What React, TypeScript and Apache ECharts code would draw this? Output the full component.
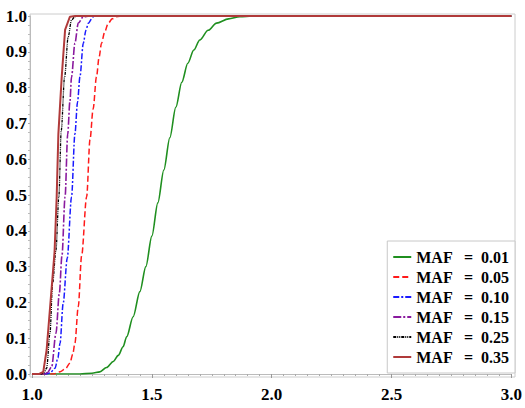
import React, { useEffect, useRef } from "react";
import * as echarts from "echarts";

// Cumulative curves, one per minor allele frequency: [x, probability]
const maf001: [number, number][] = [
  [1.0, 0], [1.2, 0], [1.25, 0.002], [1.283, 0.006], [1.311, 0.018], [1.339, 0.035],
  [1.36, 0.052], [1.38, 0.076], [1.395, 0.104], [1.422, 0.16], [1.45, 0.23],
  [1.475, 0.3], [1.5, 0.385], [1.525, 0.478], [1.55, 0.57], [1.575, 0.66],
  [1.6, 0.745], [1.625, 0.815], [1.65, 0.868], [1.675, 0.905], [1.7, 0.933],
  [1.735, 0.96], [1.77, 0.98], [1.82, 0.992], [1.867, 0.998], [1.92, 1], [3.0, 1],
];
const maf005: [number, number][] = [
  [1.0, 0], [1.09, 0], [1.117, 0.006], [1.14, 0.015], [1.158, 0.03], [1.17, 0.055],
  [1.179, 0.086], [1.193, 0.188], [1.207, 0.33], [1.228, 0.495], [1.242, 0.655],
  [1.255, 0.74], [1.269, 0.83], [1.28, 0.885], [1.29, 0.924], [1.303, 0.955],
  [1.318, 0.98], [1.335, 0.992], [1.353, 0.998], [1.38, 1], [3.0, 1],
];
const maf010: [number, number][] = [
  [1.0, 0], [1.06, 0], [1.075, 0.003], [1.096, 0.016], [1.108, 0.045], [1.117, 0.086],
  [1.13, 0.197], [1.147, 0.323], [1.165, 0.495], [1.179, 0.67], [1.19, 0.76],
  [1.2, 0.83], [1.214, 0.924], [1.225, 0.96], [1.235, 0.98], [1.255, 0.998],
  [1.28, 1], [3.0, 1],
];
const maf015: [number, number][] = [
  [1.0, 0], [1.05, 0], [1.065, 0.004], [1.082, 0.02], [1.1, 0.114], [1.114, 0.225],
  [1.125, 0.33], [1.138, 0.495], [1.149, 0.67], [1.158, 0.76], [1.165, 0.83],
  [1.179, 0.924], [1.193, 0.98], [1.214, 0.998], [1.24, 1], [3.0, 1],
];
const maf025: [number, number][] = [
  [1.0, 0], [1.04, 0], [1.05, 0.004], [1.061, 0.016], [1.075, 0.114], [1.086, 0.253],
  [1.1, 0.346], [1.112, 0.495], [1.122, 0.68], [1.136, 0.83], [1.151, 0.942],
  [1.165, 0.989], [1.179, 0.998], [1.2, 1], [3.0, 1],
];
const maf035: [number, number][] = [
  [1.0, 0], [1.03, 0], [1.047, 0.006], [1.061, 0.067], [1.078, 0.207], [1.094, 0.34],
  [1.103, 0.495], [1.11, 0.67], [1.124, 0.83], [1.138, 0.961], [1.158, 0.998],
  [1.18, 1], [3.0, 1],
];

const mafLabels = ["0.01", "0.05", "0.10", "0.15", "0.25", "0.35"];
const xTicks = [1.0, 1.5, 2.0, 2.5, 3.0];
const yTicks = [0, 0.1, 0.2, 0.3, 0.4, 0.5, 0.6, 0.7, 0.8, 0.9, 1.0];

const FONT = "'Liberation Serif', 'DejaVu Serif', serif";

const seriesDefs = [
  { data: maf001, color: "#1f8f1f", type: "solid" as any, width: 1.6, smooth: 0.3 },
  { data: maf005, color: "#ff1a1a", type: [6, 3], width: 1.5, smooth: 0.3 },
  { data: maf010, color: "#1a1aff", type: [6, 2, 2, 2], width: 1.5, smooth: 0.3 },
  { data: maf015, color: "#8a1a9e", type: [8, 2, 2, 2], width: 1.6, smooth: 0.3 },
  { data: maf025, color: "#000000", type: [3, 1, 1, 1, 1, 1], width: 1.3, smooth: 0.3 },
  { data: maf035, color: "#b03a3a", type: "solid" as any, width: 2, smooth: 0 },
];

export default function App() {
  const ref = useRef<HTMLDivElement>(null);

  useEffect(() => {
    if (!ref.current) return;
    const chart = echarts.init(ref.current, undefined, { renderer: "svg" });

    chart.setOption({
      animation: false,
      backgroundColor: "#ffffff",
      grid: { left: 32, right: 13, top: 16, bottom: 34 },
      graphic: [
        {
          type: "rect",
          shape: { x: 30, y: 14, width: 485, height: 363 },
          style: { fill: "none", stroke: "#cccccc", lineWidth: 1 },
          z: -1,
          silent: true,
        },
      ],
      legend: {
        orient: "vertical",
        right: 10,
        bottom: 35,
        itemWidth: 18,
        itemHeight: 10,
        itemGap: 4,
        padding: [8, 6, 8, 5],
        backgroundColor: "#ffffff",
        borderColor: "#c8c8c8",
        borderWidth: 1,
        itemStyle: { opacity: 0 },
        // wider spacing around the equals sign
        formatter: (name: string) =>
          "MAF\u2002\u2009=\u2002" + name.replace("MAF = ", ""),
        textStyle: {
          fontFamily: FONT,
          fontSize: 16,
          fontWeight: "bold",
          lineHeight: 15,
          color: "#000",
        },
      },
      xAxis: {
        type: "value",
        min: xTicks[0],
        max: xTicks[xTicks.length - 1],
        interval: 0.5,
        offset: 3,
        axisLine: { show: true, lineStyle: { color: "#bbbbbb", width: 1 } },
        axisTick: { show: true, length: 4, lineStyle: { color: "#999999" } },
        minorTick: { show: true, splitNumber: 10, length: 2, lineStyle: { color: "#aaaaaa" } },
        splitLine: { show: false },
        axisLabel: {
          margin: 9,
          fontFamily: FONT,
          fontSize: 17,
          fontWeight: "bold",
          color: "#000",
          formatter: (v: number) => v.toFixed(1),
        },
      },
      yAxis: {
        type: "value",
        min: yTicks[0],
        max: yTicks[yTicks.length - 1],
        interval: 0.1,
        offset: 2,
        axisLine: { show: true, lineStyle: { color: "#bbbbbb", width: 1 } },
        axisTick: { show: true, length: 2, lineStyle: { color: "#aaaaaa" } },
        minorTick: { show: true, splitNumber: 4, length: 2, lineStyle: { color: "#bbbbbb" } },
        splitLine: { show: false },
        axisLabel: {
          margin: 3,
          fontFamily: FONT,
          fontSize: 17,
          fontWeight: "bold",
          color: "#000",
          formatter: (v: number) => v.toFixed(1),
        },
      },
      series: seriesDefs.map((s, i) => ({
        name: `MAF = ${mafLabels[i]}`,
        type: "line",
        data: s.data,
        showSymbol: false,
        symbol: "none",
        smooth: s.smooth,
        smoothMonotone: "x",
        clip: true,
        color: s.color,
        lineStyle: { color: s.color, width: s.width, type: s.type },
      })),
    });

    return () => chart.dispose();
  }, []);

  return (
    <div
      ref={ref}
      style={{ position: "fixed", left: 0, top: 0, width: 525, height: 408 }}
    />
  );
}
